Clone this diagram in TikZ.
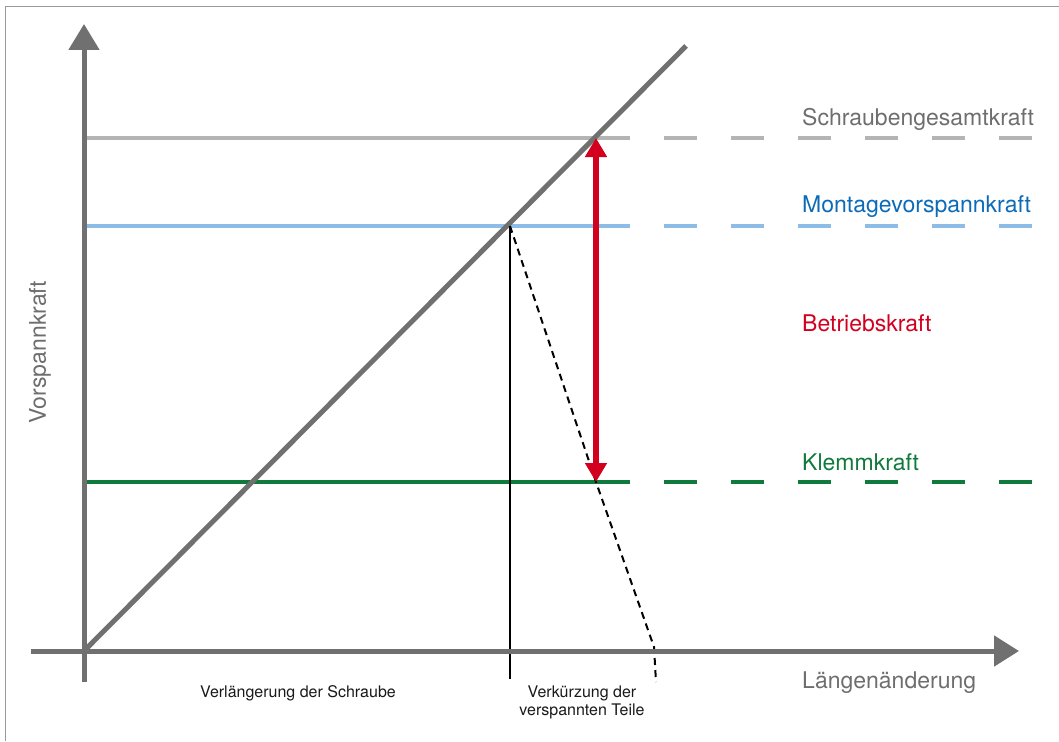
\documentclass[tikz,border=0pt]{standalone}
\usepackage{fontspec}
\setmainfont{TeX Gyre Heros}
\usetikzlibrary{arrows.meta}

\definecolor{axisgray}{HTML}{707070}
\definecolor{framegray}{HTML}{9A9A9A}
\definecolor{totalgray}{HTML}{B4B4B4}
\definecolor{textgray}{HTML}{6E6E6E}
\definecolor{preblue}{HTML}{8DBDE6}
\definecolor{pretext}{HTML}{0B6BB8}
\definecolor{clampgreen}{HTML}{0F7A3C}
\definecolor{loadred}{HTML}{D2001E}

\tikzset{
  axisline/.style={draw=axisgray, line width=5pt},
  levelline/.style={line width=3.5pt},
  leveldash/.style={line width=3.5pt, dash pattern=on 33pt off 34pt},
  biglabel/.style={font=\fontsize{23}{27}\selectfont, inner sep=0pt},
  smalllabel/.style={font=\fontsize{16}{18}\selectfont, inner sep=0pt, text=black!90, align=center},
}

\begin{document}
\begin{tikzpicture}[x=1pt, y=-1pt]
  \useasboundingbox (0,0) rectangle (1059,741);

  % outer frame (top and left edges)
  \draw[framegray, line width=1.5pt] (5.5,741) -- (5.5,6.5) -- (1059,6.5);

  % key points
  \coordinate (O)   at (84,651);
  \coordinate (Ytop) at (84,24);
  \coordinate (Ybot) at (84,682);
  \coordinate (Xl)  at (31,651);
  \coordinate (Xr)  at (1019,651);
  \coordinate (Dend) at (686,46);
  \coordinate (M)   at (510,226);
  \coordinate (S)   at (596,138);
  \coordinate (K)   at (596,482);
  \coordinate (Mb)  at (510,679);
  \coordinate (Cbend) at (654,647);
  \coordinate (Cend) at (656,682);

  % level lines: solid part then dashes
  \draw[levelline, totalgray] (86,138) -- (630,138);
  \draw[leveldash, totalgray] (664,138) -- (1032,138);
  \draw[levelline, preblue] (86,226) -- (630,226);
  \draw[leveldash, preblue] (664,226) -- (1032,226);
  \draw[levelline, clampgreen] (86,482) -- (630,482);
  \draw[leveldash, clampgreen] (664,482) -- (1032,482);

  % bolt characteristic
  \draw[axisline] (O) -- (Dend);

  % elongation marker and clamped parts characteristic
  \draw[black, line width=2pt] (M) -- (Mb);
  \draw[black, line width=2pt, dash pattern=on 7pt off 5pt] (M) -- (K) -- (Cbend) -- (Cend);

  % axes
  \draw[axisline, -{Triangle[length=26pt, width=30pt]}] (Ybot) -- (Ytop);
  \draw[axisline, -{Triangle[length=25pt, width=30pt]}] (Xl) -- (Xr);

  % working load arrow
  \draw[loadred, line width=5.5pt, {Triangle[length=19pt, width=21pt]}-{Triangle[length=19pt, width=21pt]}] (S) -- (K);

  % labels
  \node[biglabel, text=textgray, anchor=base west] (lS) at (802,125) {Schraubengesamtkraft};
  \node[biglabel, text=pretext, anchor=base west] (lM) at (802,212) {Montagevorspannkraft};
  \node[biglabel, text=loadred, anchor=base west] (lB) at (802,331) {Betriebskraft};
  \node[biglabel, text=clampgreen, anchor=base west] (lK) at (802,470) {Klemmkraft};
  \node[biglabel, text=textgray, anchor=base west] (lX) at (802,688) {Längenänderung};
  \node[biglabel, text=textgray, rotate=90] (lY) at (40,352) {Vorspannkraft};
  \node[smalllabel, anchor=base west] (lV) at (200,697) {Verlängerung der Schraube};
  \node[smalllabel, anchor=base] (lC1) at (582,697) {Verkürzung der};
  \node[smalllabel, anchor=base] (lC2) at (582,715) {verspannten Teile};
\end{tikzpicture}
\end{document}
